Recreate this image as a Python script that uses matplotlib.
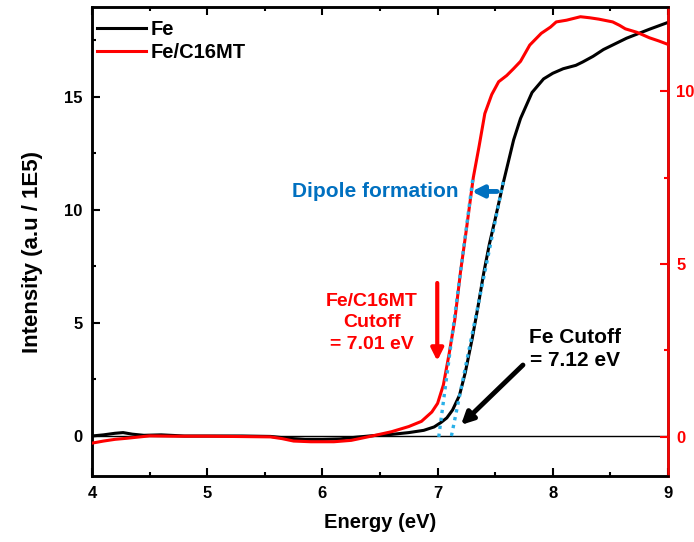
import numpy as np
import matplotlib
matplotlib.use("Agg")
import matplotlib.pyplot as plt
from matplotlib.ticker import MultipleLocator

# ---------------------------------------------------------------
# datos
# ---------------------------------------------------------------
energia_fe = [4.0, 4.1, 4.2, 4.27, 4.35, 4.45, 4.6, 4.8, 5.0, 5.3, 5.55, 5.7,
              5.85, 6.0, 6.15, 6.3, 6.45, 6.6, 6.75, 6.88, 6.97, 7.03, 7.08,
              7.13, 7.19, 7.24, 7.3, 7.35, 7.4, 7.45, 7.5, 7.57, 7.66, 7.72,
              7.82, 7.92, 8.0, 8.09, 8.2, 8.26, 8.35, 8.44, 8.54, 8.64, 8.74,
              8.84, 8.92, 9.0]
intensidad_fe = [0.0, 0.05, 0.12, 0.15, 0.08, 0.03, 0.05, 0.0, 0.0, 0.0, -0.02,
                 -0.1, -0.15, -0.15, -0.13, -0.05, 0.02, 0.07, 0.15, 0.25, 0.4,
                 0.6, 0.8, 1.15, 1.8, 2.8, 4.3, 5.7, 7.2, 8.5, 9.6, 11.2, 13.1,
                 14.05, 15.2, 15.8, 16.05, 16.25, 16.4, 16.55, 16.8, 17.1, 17.35,
                 17.6, 17.8, 18.0, 18.15, 18.3]

energia_c16 = [4.0, 4.1, 4.2, 4.3, 4.5, 4.7, 5.0, 5.3, 5.55, 5.65, 5.75, 5.9,
               6.1, 6.25, 6.35, 6.45, 6.6, 6.75, 6.86, 6.95, 7.0, 7.05, 7.1,
               7.15, 7.2, 7.25, 7.31, 7.36, 7.41, 7.47, 7.53, 7.6, 7.66, 7.72,
               7.8, 7.9, 7.98, 8.03, 8.12, 8.24, 8.32, 8.4, 8.52, 8.58, 8.63,
               8.73, 8.84, 8.92, 9.0]
intensidad_c16 = [-0.18, -0.12, -0.07, -0.04, 0.03, 0.02, 0.02, 0.01, 0.0, -0.05,
                  -0.12, -0.14, -0.14, -0.1, -0.03, 0.04, 0.15, 0.3, 0.45, 0.72,
                  0.97, 1.5, 2.4, 3.4, 4.8, 6.0, 7.5, 8.4, 9.35, 9.9, 10.27,
                  10.45, 10.65, 10.86, 11.33, 11.67, 11.85, 12.0, 12.05, 12.15,
                  12.12, 12.08, 12.0, 11.9, 11.8, 11.7, 11.54, 11.45, 11.35]

# extrapolaciones lineales (corte)
corte_fe = [7.12, 7.57]
corte_fe_y = [0.0, 11.25]
corte_c16 = [7.01, 7.31]
corte_c16_y = [0.0, 7.57]

# ---------------------------------------------------------------
# figura
# ---------------------------------------------------------------
plt.rcParams['font.family'] = ['Liberation Sans', 'DejaVu Sans']
plt.rcParams['font.weight'] = 'bold'

fig = plt.figure(figsize=(6.94, 5.42), dpi=100)
ax = fig.add_axes([0.1326, 0.1218, 0.8299, 0.8652])
ax2 = ax.twinx()

ax.axhline(0, color='black', lw=1.0, zorder=1)
l1, = ax.plot(energia_fe, intensidad_fe, color='black', lw=2.2, label='Fe', zorder=3)
l2, = ax2.plot(energia_c16, intensidad_c16, color='red', lw=2.2, label='Fe/C16MT', zorder=3)

azul = '#29B0E8'
ax.plot(corte_fe, corte_fe_y, color=azul, lw=2.4, ls=(0, (1, 1.4)), zorder=4)
ax2.plot(corte_c16, corte_c16_y, color=azul, lw=2.4, ls=(0, (1, 1.4)), zorder=4)

ax.set_xlim(4, 9)
ax.set_ylim(-1.77, 18.98)
ax2.set_ylim(-1.13, 12.43)

ax.xaxis.set_major_locator(MultipleLocator(1))
ax.xaxis.set_minor_locator(MultipleLocator(0.5))
ax.yaxis.set_major_locator(MultipleLocator(5))
ax.yaxis.set_minor_locator(MultipleLocator(2.5))
ax2.yaxis.set_major_locator(MultipleLocator(5))
ax2.yaxis.set_minor_locator(MultipleLocator(2.5))

ax.tick_params(axis='both', which='major', direction='in', length=6, width=1.5,
               labelsize=12, pad=7, top=True, right=False)
ax.tick_params(axis='both', which='minor', direction='in', length=3, width=1.5,
               top=True, right=False)
ax2.tick_params(axis='y', which='major', direction='in', length=6, width=1.5,
                labelsize=12, pad=6, colors='red')
ax2.tick_params(axis='y', which='minor', direction='in', length=3, width=1.5,
                colors='red')

for s in ax.spines.values():
    s.set_linewidth(1.8)
for s in ax2.spines.values():
    s.set_linewidth(1.8)
ax2.spines['right'].set_color('red')

ax.set_xlabel('Energy (eV)', fontsize=14.5, fontweight='bold', labelpad=9)
ax.set_ylabel('Intensity (a.u / 1E5)', fontsize=16, fontweight='bold', labelpad=15)
ax.yaxis.label.set_y(0.478)

ax.legend(handles=[l1, l2], loc='upper left', bbox_to_anchor=(-0.005, 0.99),
          frameon=False, fontsize=14.5, handlelength=2.4, handletextpad=0.25,
          labelspacing=0.2, borderaxespad=0.2, borderpad=0.2)

# ---------------------------------------------------------------
# anotaciones
# ---------------------------------------------------------------
ax.text(6.46, 10.84, 'Dipole formation', color='#0070C0', fontsize=15,
        fontweight='bold', ha='center', va='center')
ax.annotate('', xy=(7.296, 10.82), xytext=(7.516, 10.82),
            arrowprops=dict(arrowstyle='-|>', color='#0070C0', lw=3.5,
                            mutation_scale=17, shrinkA=0, shrinkB=0))

ax.text(6.43, 5.0, 'Fe/C16MT\nCutoff\n= 7.01 eV', color='red', fontsize=14,
        fontweight='bold', ha='center', va='center', linespacing=1.35)
ax.annotate('', xy=(6.997, 3.32), xytext=(6.997, 6.77),
            arrowprops=dict(arrowstyle='-|>', color='red', lw=3,
                            mutation_scale=18, shrinkA=0, shrinkB=0))

ax.text(8.19, 3.85, 'Fe Cutoff\n= 7.12 eV', color='black', fontsize=15,
        fontweight='bold', ha='center', va='center', linespacing=1.3)
ax.annotate('', xy=(7.203, 0.49), xytext=(7.741, 3.14),
            arrowprops=dict(arrowstyle='-|>', color='black', lw=3.5,
                            mutation_scale=18, shrinkA=0, shrinkB=0))

fig.savefig('out.png', dpi=100)
